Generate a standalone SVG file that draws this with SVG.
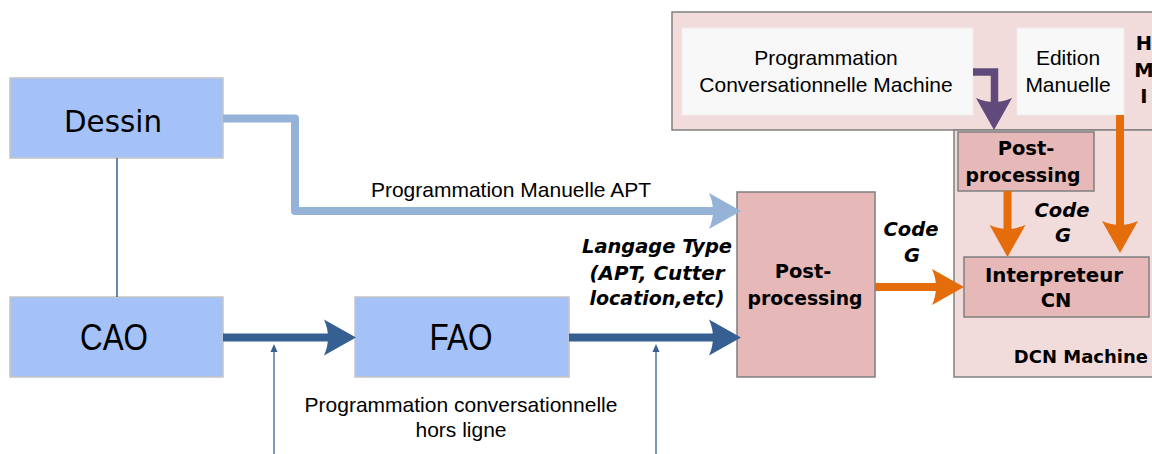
<svg xmlns="http://www.w3.org/2000/svg" width="1152" height="454" viewBox="0 0 1152 454">
<style>
.blue{fill:#a4c2f8;stroke:#c4c4c4;stroke-width:1.5}
.pink{fill:#e6b8b7;stroke:#7f7f7f;stroke-width:1.5}
.panel{fill:#f2dcdb;stroke:#808080;stroke-width:1.5}
.white{fill:#f8f8f8;stroke:#ececec;stroke-width:1}
.big{font-family:"Liberation Sans",Arial,sans-serif;font-size:37px;fill:#000;text-anchor:middle}
.reg{font-family:"Liberation Sans",Arial,sans-serif;font-size:21px;fill:#000;text-anchor:middle}
.bold{font-family:"DejaVu Sans",Verdana,sans-serif;font-weight:bold;font-size:19.5px;fill:#000;text-anchor:middle}
.bi{font-family:"DejaVu Sans",Verdana,sans-serif;font-weight:bold;font-style:italic;font-size:19.5px;fill:#000;text-anchor:middle}
.shaft{fill:none;stroke-width:8}
</style>
<defs>
<path id="head" d="M0,0 L-32,-18 Q-24,0 -32,18 Z"/>
<path id="thin" d="M0,0 L-8,-3.5 L-8,3.5 Z"/>
</defs>
<rect width="1152" height="454" fill="#fff"/>

<g id="hmi">
<rect class="panel" x="672" y="12" width="490" height="118"/>
<text class="bold" x="1144" y="50">H</text>
<text class="bold" x="1144" y="77">M</text>
<text class="bold" x="1144" y="103">I</text>
</g>
<g id="dcn-machine">
<rect class="panel" x="954" y="130" width="210" height="247"/>
<text class="bold" x="1148" y="363" style="text-anchor:end;font-size:18px">DCN Machine</text>
</g>
<g id="prog-conv-machine">
<rect class="white" x="682" y="28" width="291" height="87"/>
<text class="reg" x="826" y="65">Programmation</text>
<text class="reg" x="826" y="92">Conversationnelle Machine</text>
</g>
<g id="edition-manuelle">
<rect class="white" x="1017" y="28" width="107" height="87"/>
<text class="reg" x="1068" y="65">Edition</text>
<text class="reg" x="1068" y="92">Manuelle</text>
</g>
<g id="post-processing-machine">
<rect class="pink" x="958" y="132" width="136" height="59"/>
<text class="bold" x="1026" y="155">Post-</text>
<text class="bold" x="1023" y="182" textLength="115" lengthAdjust="spacingAndGlyphs">processing</text>
</g>
<g id="interpreteur">
<rect class="pink" x="964" y="257" width="185" height="60"/>
<text class="bold" x="1054" y="282" textLength="138" lengthAdjust="spacingAndGlyphs">Interpreteur</text>
<text class="bold" x="1056" y="307">CN</text>
</g>
<g id="dessin">
<rect class="blue" x="10" y="78" width="213" height="80"/>
<text x="113" y="132" font-family="DejaVu Sans, Verdana, sans-serif" font-size="31" text-anchor="middle" textLength="98" lengthAdjust="spacingAndGlyphs">Dessin</text>
</g>
<g id="cao">
<rect class="blue" x="10" y="297" width="213" height="80"/>
<text class="big" x="114" y="350" textLength="68" lengthAdjust="spacingAndGlyphs">CAO</text>
</g>
<g id="fao">
<rect class="blue" x="355" y="297" width="214" height="80"/>
<text class="big" x="461" y="350" textLength="63" lengthAdjust="spacingAndGlyphs">FAO</text>
</g>
<g id="post-processing">
<rect class="pink" x="737" y="192" width="138" height="185"/>
<text class="bold" x="803" y="278">Post-</text>
<text class="bold" x="805" y="305" textLength="115" lengthAdjust="spacingAndGlyphs">processing</text>
</g>

<g id="connectors">
<line x1="117" y1="158" x2="117" y2="297" stroke="#366092" stroke-width="1.5"/>
<path class="shaft" d="M223,118.5 H295 V211 H716" stroke="#95b3d7" stroke-linejoin="round"/>
<use href="#head" transform="translate(741,211)" fill="#95b3d7"/>
<line class="shaft" x1="223" y1="337.5" x2="331" y2="337.5" stroke="#366092"/>
<use href="#head" transform="translate(356,337.5)" fill="#366092"/>
<line class="shaft" x1="569" y1="337.5" x2="716" y2="337.5" stroke="#366092"/>
<use href="#head" transform="translate(741,337.5)" fill="#366092"/>
<line x1="274" y1="454" x2="274" y2="350" stroke="#366092" stroke-width="1.3"/>
<use href="#thin" transform="translate(274,344) rotate(-90)" fill="#366092"/>
<line x1="656" y1="454" x2="656" y2="350" stroke="#366092" stroke-width="1.3"/>
<use href="#thin" transform="translate(656,344) rotate(-90)" fill="#366092"/>
<line class="shaft" x1="875" y1="287" x2="940" y2="287" stroke="#e46c0a"/>
<use href="#head" transform="translate(964,287)" fill="#e46c0a"/>
<path d="M973,72 H994.5 V106" fill="none" stroke="#604a7b" stroke-width="7.5"/>
<use href="#head" transform="translate(994,130) rotate(90)" fill="#604a7b"/>
<line class="shaft" x1="1007.5" y1="191" x2="1007.5" y2="233" stroke="#e46c0a"/>
<use href="#head" transform="translate(1007.5,257) rotate(90)" fill="#e46c0a"/>
<line class="shaft" x1="1120" y1="115" x2="1120" y2="229" stroke="#e46c0a"/>
<use href="#head" transform="translate(1120,253) rotate(90)" fill="#e46c0a"/>
</g>

<g id="labels">
<text class="reg" x="511" y="197">Programmation Manuelle APT</text>
<text class="bi" x="657" y="253" textLength="150" lengthAdjust="spacingAndGlyphs">Langage Type</text>
<text class="bi" x="657" y="280" textLength="135" lengthAdjust="spacingAndGlyphs">(APT, Cutter</text>
<text class="bi" x="657" y="305" textLength="135" lengthAdjust="spacingAndGlyphs">location,etc)</text>
<text class="bi" x="911" y="236">Code</text>
<text class="bi" x="912" y="262">G</text>
<text class="bi" x="1062" y="217">Code</text>
<text class="bi" x="1063" y="242">G</text>
<text class="reg" x="461" y="412">Programmation conversationnelle</text>
<text class="reg" x="461" y="437">hors ligne</text>
</g>
</svg>
